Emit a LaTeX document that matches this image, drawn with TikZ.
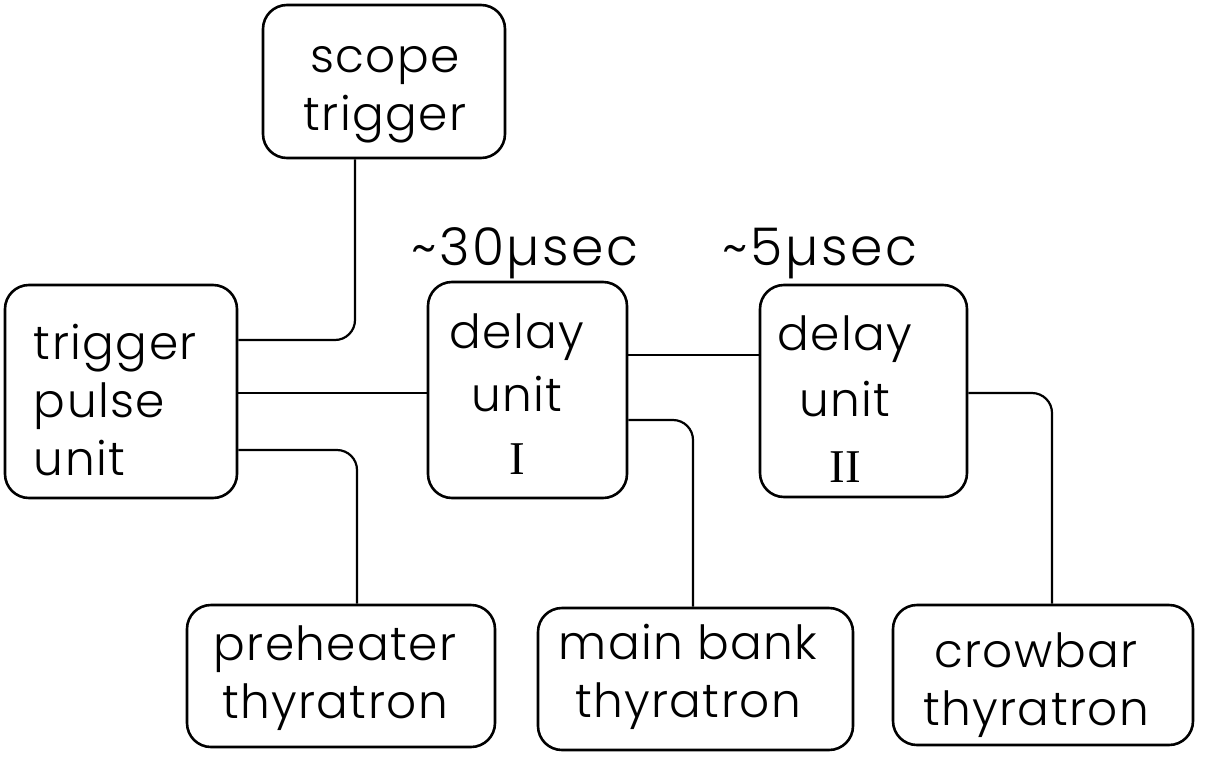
\documentclass[tikz,border=0pt]{standalone}
\usepackage{fontspec}
\setmainfont{Poppins}[UprightFont={* Light}, LetterSpace=3]
\newfontfamily\numfont{Liberation Serif}
\begin{document}
\begin{tikzpicture}[x=1pt,y=-1pt,
  box/.style={draw, line width=2.6pt, rounded corners=24pt, inner sep=0pt},
  txt/.style={inner sep=0pt, align=center, font=\fontsize{47}{58}\selectfont},
  lbl/.style={inner sep=0pt, font=\fontsize{52}{58}\selectfont\addfontfeatures{LetterSpace=5}},
  wire/.style={line width=2.2pt, rounded corners=20pt}]
\useasboundingbox (0,0) rectangle (1205,758);

\node[box, minimum width=242pt, minimum height=153pt] (scope) at (384,81.5) {};
\node[box, minimum width=232pt, minimum height=213pt] (tpu) at (121,391.5) {};
\node[box, minimum width=199pt, minimum height=216pt] (d1) at (527.5,390) {};
\node[box, minimum width=207pt, minimum height=212pt] (d2) at (863.5,391) {};
\node[box, minimum width=308pt, minimum height=142pt] (pre) at (341,676) {};
\node[box, minimum width=315pt, minimum height=142pt] (mb) at (695.5,679) {};
\node[box, minimum width=300pt, minimum height=140pt] (cb) at (1043,675) {};

\node[txt] (scopeT) at (385,95) {scope\\trigger};
\node[txt, text width=180pt, align=left] (tpuT) at (124,400) {trigger\\pulse\\unit};
\node[txt, font=\fontsize{47}{63}\selectfont] (d1T) at (517,394) {delay\\unit\\{\numfont I}};
\node[txt, font=\fontsize{47}{66}\selectfont] (d2T) at (845,399) {delay\\unit\\{\numfont II}};
\node[txt] (preT) at (335,678) {preheater\\thyratron};
\node[txt] (mbT) at (688,677) {main bank\\thyratron};
\node[txt] (cbT) at (1036,685) {crowbar\\thyratron};

\node[lbl, anchor=base] (t1) at (525,265) {\textasciitilde30µsec};
\node[lbl, anchor=base] (t2) at (820,265) {\textasciitilde5µsec};

\draw[wire] (scope.south -| 355,0) |- (tpu.east |- 0,340);
\draw[wire] (tpu.east |- 0,393) -- (d1.west |- 0,393);
\draw[wire] (tpu.east |- 0,450) -| (pre.north -| 357,0);
\draw[wire] (d1.east |- 0,355) -- (d2.west |- 0,355);
\draw[wire] (d1.east |- 0,420) -| (mb.north -| 693,0);
\draw[wire] (d2.east |- 0,393) -| (cb.north -| 1052,0);
\end{tikzpicture}
\end{document}
